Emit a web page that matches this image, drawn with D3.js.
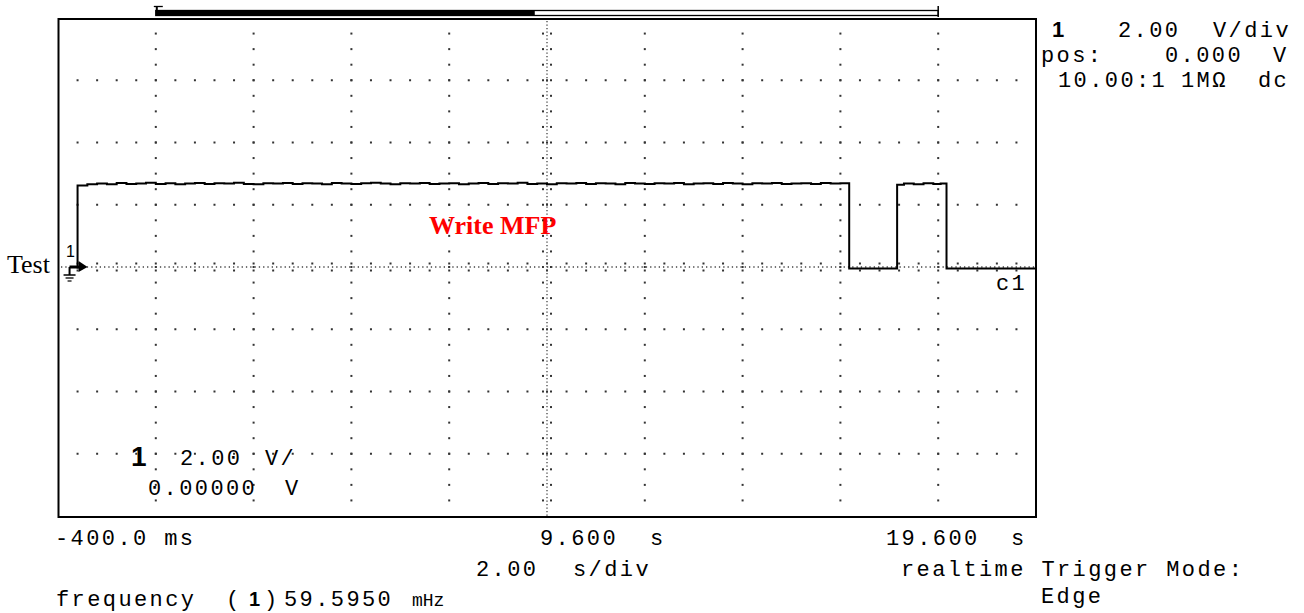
<!DOCTYPE html>
<html>
<head>
<meta charset="utf-8">
<script src="https://cdn.jsdelivr.net/npm/d3@7"></script>
<style>
  body { margin: 0; background: #fff; }
  .scope { font-family: "Liberation Mono", "DejaVu Sans Mono", monospace; font-size: 22px; letter-spacing: 2.4px; fill: #000; }
  .big1 { font-family: "Liberation Sans", Arial, sans-serif; font-weight: bold; letter-spacing: 0; }
</style>
</head>
<body>
<svg id="chart" width="1304" height="613"></svg>
<script>
'use strict';

// time base: 2 s/div, 10 div, left edge -400 ms
var timeDomain = [-0.4, 19.6];
// 2 V/div, 8 div, 0 V at centre
var voltDomain = [-8, 8];

// edges (s)
var edgeTimes = [0.0, 15.78, 16.76, 17.77];
var lowLevel = -0.05;

// high level of the long pulse, every 0.2 s from 0 s
var pulse1Step = 0.2;
var pulse1Volts = [2.62, 2.66, 2.68, 2.66, 2.70, 2.67, 2.68, 2.71, 2.67, 2.69, 2.66, 2.68, 2.70, 2.67, 2.69, 2.68, 2.71, 2.67, 2.66, 2.69,
                   2.68, 2.70, 2.67, 2.69, 2.68, 2.66, 2.70, 2.68, 2.67, 2.69, 2.71, 2.68, 2.66, 2.69, 2.68, 2.70, 2.67, 2.68, 2.69, 2.66,
                   2.68, 2.70, 2.67, 2.69, 2.68, 2.71, 2.67, 2.68, 2.66, 2.69, 2.68, 2.70, 2.67, 2.69, 2.68, 2.66, 2.70, 2.68, 2.67, 2.69,
                   2.68, 2.70, 2.66, 2.68, 2.69, 2.67, 2.70, 2.68, 2.66, 2.69, 2.68, 2.70, 2.67, 2.68, 2.69, 2.67, 2.70, 2.68, 2.69];
// short pulse
var pulse2Times = [16.76, 16.9, 17.1, 17.3, 17.5, 17.65];
var pulse2Volts = [2.64, 2.68, 2.66, 2.69, 2.67, 2.68];

// record length bar above the screen (in screen time)
var recordBar = { start: 1.6, filled: 9.35, end: 17.6 };

var svg = d3.select('#chart');
var x = d3.scaleLinear().domain(timeDomain).range([58, 1036]);
var y = d3.scaleLinear().domain(voltDomain).range([516, 18]);

svg.append('rect').attr('width', 1304).attr('height', 613).attr('fill', '#fff');

// graticule
var g = svg.append('g').attr('fill', '#333');
var colTimes = d3.range(1, 10).filter(function(k){ return k !== 5; }).map(function(k){ return -0.4 + 2 * k; });
var rowVolts = d3.range(-6, 8, 2).filter(function(v){ return v !== 0; });
var quarterVolts = d3.range(-7.5, 8, 0.5);
var fifthTimes = d3.range(1, 50).map(function(n){ return -0.4 + 0.4 * n; });

function dot(px, py) {
  g.append('rect').attr('x', px - 1).attr('y', py - 1).attr('width', 2).attr('height', 2);
}

colTimes.forEach(function(t){
  quarterVolts.forEach(function(v){ dot(x(t), y(v)); });
});
rowVolts.forEach(function(v){
  fifthTimes.forEach(function(t){ dot(x(t), y(v)); });
});

// centre axes, denser dots with small ticks
var cx = x(9.6), cy = y(0);
svg.append('line').attr('x1', cx).attr('x2', cx).attr('y1', 21).attr('y2', 516)
  .attr('stroke', '#444').attr('stroke-width', 1.3).attr('stroke-dasharray', '1.3,2.2');
svg.append('line').attr('x1', 61).attr('x2', 1035).attr('y1', cy).attr('y2', cy)
  .attr('stroke', '#444').attr('stroke-width', 1.3).attr('stroke-dasharray', '1.3,3');
quarterVolts.forEach(function(v){
  [-4, 4].forEach(function(d){ dot(cx + d, y(v)); });
});
fifthTimes.forEach(function(t){
  [-3.5, 3.5].forEach(function(d){ dot(x(t), cy + d); });
});

// frame
svg.append('rect').attr('x', 58.5).attr('y', 19).attr('width', 977.5).attr('height', 498)
  .attr('fill', 'none').attr('stroke', '#000').attr('stroke-width', 2);

// record bar
var rb = svg.append('g');
rb.append('rect').attr('x', x(recordBar.start)).attr('y', 10.5)
  .attr('width', x(recordBar.end) - x(recordBar.start)).attr('height', 5)
  .attr('fill', 'none').attr('stroke', '#000').attr('stroke-width', 1.3);
rb.append('rect').attr('x', x(recordBar.start)).attr('y', 10)
  .attr('width', x(recordBar.filled) - x(recordBar.start)).attr('height', 6).attr('fill', '#000');
rb.append('line').attr('x1', x(recordBar.end)).attr('x2', x(recordBar.end)).attr('y1', 6).attr('y2', 17)
  .attr('stroke', '#000').attr('stroke-width', 1.5);
rb.append('line').attr('x1', x(recordBar.start) - 2).attr('x2', x(recordBar.start) + 7).attr('y1', 6.5).attr('y2', 6.5)
  .attr('stroke', '#000').attr('stroke-width', 1.3);
rb.append('line').attr('x1', x(recordBar.start) + 1).attr('x2', x(recordBar.start) + 1).attr('y1', 6).attr('y2', 16)
  .attr('stroke', '#000').attr('stroke-width', 2);

// trace
var pts = [[edgeTimes[0], lowLevel]];
pulse1Volts.forEach(function(v, i){ pts.push([edgeTimes[0] + i * pulse1Step, v]); });
pts.push([edgeTimes[1], pulse1Volts[pulse1Volts.length - 1]]);
pts.push([edgeTimes[1], lowLevel]);
pts.push([edgeTimes[2], lowLevel]);
pulse2Times.forEach(function(t, i){ pts.push([t, pulse2Volts[i]]); });
pts.push([edgeTimes[3], pulse2Volts[pulse2Volts.length - 1]]);
pts.push([edgeTimes[3], lowLevel]);
pts.push([timeDomain[1], lowLevel]);

var line = d3.line()
  .x(function(d){ return x(d[0]); })
  .y(function(d){ return y(d[1]); })
  .curve(d3.curveStepAfter);
svg.append('path').datum(pts).attr('d', line)
  .attr('fill', 'none').attr('stroke', '#000').attr('stroke-width', 2);

// channel marker and ground
var mx = x(0);
var mk = svg.append('g').attr('stroke', '#000');
mk.append('line').attr('x1', mx - 8).attr('x2', mx - 8).attr('y1', cy).attr('y2', cy + 8).attr('stroke-width', 2);
mk.append('line').attr('x1', mx - 14).attr('x2', mx - 2).attr('y1', cy + 8).attr('y2', cy + 8).attr('stroke-width', 1.5);
mk.append('line').attr('x1', mx - 12).attr('x2', mx - 4).attr('y1', cy + 11).attr('y2', cy + 11).attr('stroke-width', 1.3);
mk.append('line').attr('x1', mx - 10).attr('x2', mx - 6).attr('y1', cy + 14).attr('y2', cy + 14).attr('stroke-width', 1.2);
mk.append('line').attr('x1', mx - 8).attr('x2', mx + 3).attr('y1', cy).attr('y2', cy).attr('stroke-width', 3);
svg.append('path').attr('d', 'M' + (mx + 1) + ',' + (cy - 6) + 'L' + (mx + 10) + ',' + cy + 'L' + (mx + 1) + ',' + (cy + 5) + 'Z')
  .attr('fill', '#000');
svg.append('text').attr('x', mx - 7).attr('y', cy - 10).attr('text-anchor', 'middle')
  .attr('font-family', 'Liberation Sans, Arial, sans-serif').attr('font-size', 16).text('1');

svg.append('text').attr('x', 7).attr('y', 273)
  .attr('font-family', 'Liberation Serif, Times New Roman, serif').attr('font-size', 26).text('Test');
svg.append('text').attr('x', 429).attr('y', 234)
  .attr('font-family', 'Liberation Serif, Times New Roman, serif').attr('font-size', 26)
  .attr('font-weight', 'bold').attr('fill', '#ff0000').text('Write MFP');

// scope readouts
function txt(px, py, s, cls, size) {
  var t = svg.append('text').attr('class', 'scope' + (cls ? ' ' + cls : '')).attr('x', px).attr('y', py).text(s);
  if (size) t.style('font-size', size + 'px');
  return t;
}
txt(1052, 37, '1', 'big1', 22);
txt(1118, 37, '2.00');
txt(1213, 37, 'V/div');
txt(1041, 62, 'pos:');
txt(1165, 62, '0.000');
txt(1273, 62, 'V');
txt(1058, 87, '10.00:1');
txt(1181, 87, '1MΩ');
txt(1258, 87, 'dc');

txt(996, 290, 'c1');

txt(131, 466, '1', 'big1', 28);
txt(180, 465, '2.00');
txt(265, 465, 'V/');
txt(148, 495, '0.00000');
txt(285, 495, 'V');

txt(55, 545, '-400.0 ms');
txt(540, 545, '9.600');
txt(650, 545, 's');
txt(886, 545, '19.600');
txt(1011, 545, 's');
txt(476, 576, '2.00');
txt(573, 576, 's/div');
txt(901, 576, 'realtime Trigger Mode:');
txt(1041, 603, 'Edge');
txt(56, 606, 'frequency');
txt(226, 606, '(');
txt(249, 606, '1', 'big1', 20);
txt(264, 606, ')');
txt(284, 606, '59.5950');
txt(412, 606, 'mHz', null, 18).style('letter-spacing', '0px');
</script>
</body>
</html>
